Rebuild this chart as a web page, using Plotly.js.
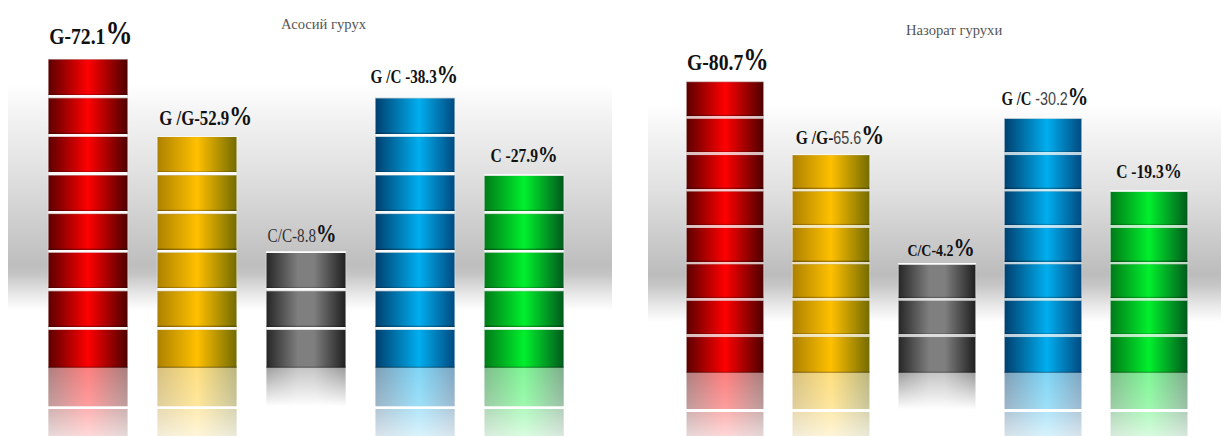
<!DOCTYPE html>
<html>
<head>
<meta charset="utf-8">
<script src="https://cdn.plot.ly/plotly-3.0.1.min.js"></script>
<style>html,body{margin:0;padding:0;background:#fff}#chart{width:1221px;height:436px}</style>
</head>
<body>
<div id="chart"></div>
<script>
// Genotype frequencies (%) as printed above each column
const genotypes = ['G', 'G/G', 'C/C', 'G/C', 'C'];
const mainShares = [72.1, 52.9, 8.8, 38.3, 27.9];
const controlShares = [80.7, 65.6, 4.2, 30.2, 19.3];

// Number of stacked discs in each column; the columns are pictograms
const mainDiscs = [8, 6, 3, 7, 5];
const controlDiscs = [8, 6, 3, 7, 5];

// Number of mirrored discs under the baseline
const mirrorDiscs = [2, 2, 1, 2, 2];

const panelTitles = ['Асосий гурух', 'Назорат гурухи'];

// Cylinder shading per genotype: stops across the width of a disc
const shading = [
  [[0, '#5c0000'], [.5, '#ff0000'], [1, '#4d0000']],
  [[0, '#ad8100'], [.5, '#ffc000'], [1, '#736b00']],
  [[0, '#262626'], [.4, '#7f7f7f'], [.6, '#7f7f7f'], [1, '#1f1f1f']],
  [[0, '#003f6e'], [.55, '#00aeef'], [1, '#004a80']],
  [[0, '#007a18'], [.5, '#00f02c'], [1, '#00591c']]
];

// Printed labels: bold / regular runs, followed by the larger percent sign
const boldFace = 'font-family:Liberation Serif;font-weight:bold';
const sansFace = 'font-family:Liberation Sans;font-weight:normal;color:#444';
const plainFace = 'font-family:Liberation Serif;font-weight:normal;color:#333';
function run(style, size, text) { return `<span style="${style};font-size:${size}px">${text}</span>`; }
function percent(size) { return `<span style="font-family:Liberation Serif;font-weight:bold;font-size:${size}px">%</span>`; }

const mainLabels = [
  run(boldFace, 24, `G-${mainShares[0]}`) + percent(33),
  run(boldFace, 20.5, `G /G-${mainShares[1]}`) + percent(28),
  run(plainFace, 18.5, `C/C-${mainShares[2]}`) + percent(25),
  run(boldFace, 18.5, `G /C -${mainShares[3]}`) + percent(26),
  run(boldFace, 19, `C -${mainShares[4]}`) + percent(24)
];
const controlLabels = [
  run(boldFace, 24, `G-${controlShares[0]}`) + percent(31),
  run(boldFace, 19, 'G /G-') + run(sansFace, 17.5, `${controlShares[1]}`) + percent(28),
  run(boldFace, 17, `C/C-${controlShares[2]}`) + percent(26),
  run(boldFace, 18, 'G /C ') + run(sansFace, 17.5, `-${controlShares[3]}`) + percent(25),
  run(boldFace, 19, `C -${controlShares[4]}`) + percent(22)
];

// Nudges that keep the wider labels clear of their neighbours and of the column tops
const mainLabelShift = [3, 8.5, -4.5, -0.5, 0];
const controlLabelShift = [3.5, 9, 4, 2, 0];
const mainLabelLift = [6, 3, 3, 7, 6];
const controlLabelLift = [3, 3, 0, 6, 6];

const maxDiscs = 8;

function columnTraces(discs, xa, ya, panel) {
  const traces = [];
  for (let level = 0; level < maxDiscs; level++) {
    traces.push({
      type: 'bar', xaxis: xa, yaxis: ya, x: genotypes,
      y: discs.map(n => (n > level ? 1 : 0)),
      marker: { color: shading.map(s => s[1][1]), line: { color: 'rgba(255,255,255,0.45)', width: 1 } },
      hoverinfo: 'skip', showlegend: false,
      meta: { kind: 'disc', level: level, panel: panel }
    });
  }
  for (let level = 0; level < 2; level++) {
    traces.push({
      type: 'bar', xaxis: xa, yaxis: ya, x: genotypes,
      y: mirrorDiscs.map(n => (n > level ? -1 : 0)),
      marker: { color: shading.map(s => s[1][1]), line: { width: 0 } },
      hoverinfo: 'skip', showlegend: false,
      meta: { kind: 'mirror', level: level, panel: panel }
    });
  }
  return traces;
}

const data = columnTraces(mainDiscs, 'x', 'y', 'main')
  .concat(columnTraces(controlDiscs, 'x2', 'y2', 'control'));

function columnLabels(labels, discs, shifts, lifts, xa, ya) {
  return labels.map((text, i) => ({
    xref: xa, yref: ya, x: genotypes[i], y: discs[i], text: text,
    showarrow: false, xanchor: 'center', yanchor: 'bottom', xshift: shifts[i], yshift: lifts[i],
    font: { family: 'Liberation Serif', color: '#111111', size: 16 }
  }));
}

function axis(domain, range) {
  return { domain, range, visible: false, fixedrange: true, type: 'category',
    categoryorder: 'array', categoryarray: genotypes };
}
function valueAxis(range) {
  return { domain: [0, 1], range, visible: false, fixedrange: true };
}
function panelTitle(text, x, y) {
  return { xref: 'paper', yref: 'paper', x, y, text, showarrow: false,
    xanchor: 'center', yanchor: 'middle',
    font: { family: 'Liberation Serif', size: 14.6, color: '#555555' } };
}
function band(x0, x1, y0, y1) {
  return { type: 'rect', xref: 'paper', yref: 'paper', x0, x1, y0, y1, layer: 'below',
    line: { width: 0 }, fillcolor: '#cccccc' };
}

const W = 1221, H = 436;
const layout = {
  width: W, height: H,
  margin: { l: 0, r: 0, t: 0, b: 0 },
  paper_bgcolor: '#ffffff', plot_bgcolor: 'rgba(0,0,0,0)',
  barmode: 'relative', bargap: 0.27, showlegend: false,
  xaxis: axis([0, 0.5], [-0.807, 4.793]),
  xaxis2: axis([0.5, 1], [-1.08, 4.679]),
  yaxis: Object.assign(valueAxis([-1.762, 9.534]), { anchor: 'x' }),
  yaxis2: Object.assign(valueAxis([-1.731, 10.247]), { anchor: 'x2' }),
  shapes: [
    band(8 / W, 612 / W, 1 - 310 / H, 1 - 85 / H),
    band(648 / W, 1, 1 - 322 / H, 1 - 105 / H)
  ],
  annotations: [
    panelTitle(panelTitles[0], 324 / W, 1 - 24 / H),
    panelTitle(panelTitles[1], 954 / W, 1 - 30 / H)
  ].concat(
    columnLabels(mainLabels, mainDiscs, mainLabelShift, mainLabelLift, 'x', 'y'),
    columnLabels(controlLabels, controlDiscs, controlLabelShift, controlLabelLift, 'x2', 'y2')
  )
};

const svgNS = 'http://www.w3.org/2000/svg';
function gradient(defs, id, horizontal, stops) {
  const g = document.createElementNS(svgNS, 'linearGradient');
  g.setAttribute('id', id);
  g.setAttribute('x1', 0); g.setAttribute('y1', 0);
  g.setAttribute('x2', horizontal ? 1 : 0); g.setAttribute('y2', horizontal ? 0 : 1);
  stops.forEach(([offset, color, alpha]) => {
    const s = document.createElementNS(svgNS, 'stop');
    s.setAttribute('offset', offset);
    s.setAttribute('stop-color', color);
    if (alpha !== undefined) s.setAttribute('stop-opacity', alpha);
    g.appendChild(s);
  });
  defs.appendChild(g);
}
// Opacity ramp for a mirrored disc; gap leaves a clear strip along its upper edge
function fadeMask(defs, id, from, to, gap) {
  const stops = gap ? [[0, '#fff', 0], [gap, '#fff', 0], [gap, '#fff', from], [1, '#fff', to]]
                    : [[0, '#fff', from], [1, '#fff', to]];
  gradient(defs, id + '-g', false, stops);
  const m = document.createElementNS(svgNS, 'mask');
  m.setAttribute('id', id);
  m.setAttribute('maskContentUnits', 'objectBoundingBox');
  m.setAttribute('maskUnits', 'objectBoundingBox');
  m.setAttribute('x', 0); m.setAttribute('y', 0);
  m.setAttribute('width', 1); m.setAttribute('height', 1);
  const r = document.createElementNS(svgNS, 'rect');
  r.setAttribute('width', 1); r.setAttribute('height', 1);
  r.setAttribute('fill', `url(#${id}-g)`);
  m.appendChild(r);
  defs.appendChild(m);
}

// Edge shading of a disc, with the white gap to the disc below it painted along the bottom
function rimStops(gapStart, gapAlpha) {
  return [[0, '#000', .25], [.03, '#000', 0], [gapStart - .05, '#000', 0], [gapStart, '#000', .35],
    [gapStart, '#fff', gapAlpha], [1, '#fff', gapAlpha]];
}

const gd = document.getElementById('chart');
Plotly.newPlot(gd, data, layout, { staticPlot: true, displayModeBar: false }).then(() => {
  const svg = gd.querySelector('svg.main-svg');
  const defs = document.createElementNS(svgNS, 'defs');
  svg.insertBefore(defs, svg.firstChild);

  shading.forEach((stops, i) => gradient(defs, 'disc-' + i, true, stops));
  gradient(defs, 'rim-main', false, rimStops(.935, .97));
  gradient(defs, 'rim-control', false, rimStops(.94, .75));
  gradient(defs, 'rim-base', false, [[0, '#000', .25], [.03, '#000', 0], [.94, '#000', 0], [1, '#000', .35]]);

  // Backdrop bands: pale at the top, darkest low down, then a quick fade out
  gradient(defs, 'band-main', false, [[0, '#ffffff'], [.12, '#f4f4f4'], [.4, '#e0e0e0'], [.8, '#bebebe'], [.84, '#c4c4c4'], [.93, '#e8e8e8'], [1, '#ffffff']]);
  gradient(defs, 'band-control', false, [[0, '#ffffff'], [.12, '#f4f4f4'], [.4, '#e0e0e0'], [.78, '#bcbcbc'], [.83, '#c6c6c6'], [.93, '#eaeaea'], [1, '#ffffff']]);
  const bands = gd.querySelectorAll('.shapelayer path');
  bands[0].style.fill = 'url(#band-main)';
  bands[1].style.fill = 'url(#band-control)';
  bands[0].style.fillOpacity = bands[1].style.fillOpacity = 1;

  // One ramp per mirror level, and a faster one for the short column
  fadeMask(defs, 'fade-0', .5, .38);
  fadeMask(defs, 'fade-1', .3, .1, .06);
  fadeMask(defs, 'fade-short', .45, 0);

  gd.querySelectorAll('.trace.bars').forEach(traceEl => {
    const meta = traceEl.__data__[0].trace.meta;
    traceEl.querySelectorAll('.point').forEach((pointEl, i) => {
      const path = pointEl.querySelector('path');
      if (!path || path.getAttribute('d') === 'M0,0Z') return;
      path.style.fill = `url(#disc-${i})`;
      if (meta.kind === 'mirror') {
        const fade = mirrorDiscs[i] === 1 ? 'fade-short' : 'fade-' + meta.level;
        path.setAttribute('mask', `url(#${fade})`);
      } else {
        const rim = path.cloneNode(false);
        rim.style.fill = `url(#${meta.level === 0 ? 'rim-base' : 'rim-' + meta.panel})`;
        rim.style.stroke = 'none';
        pointEl.appendChild(rim);
      }
    });
  });

  // The value labels are set in a condensed cut of the serif face
  gd.querySelectorAll('.annotation-text').forEach(t => {
    if (!t.textContent.includes('%')) return;
    t.style.transformBox = 'fill-box';
    t.style.transformOrigin = 'center';
    t.style.transform = 'scaleX(0.82)';
  });
});
</script>
</body>
</html>
